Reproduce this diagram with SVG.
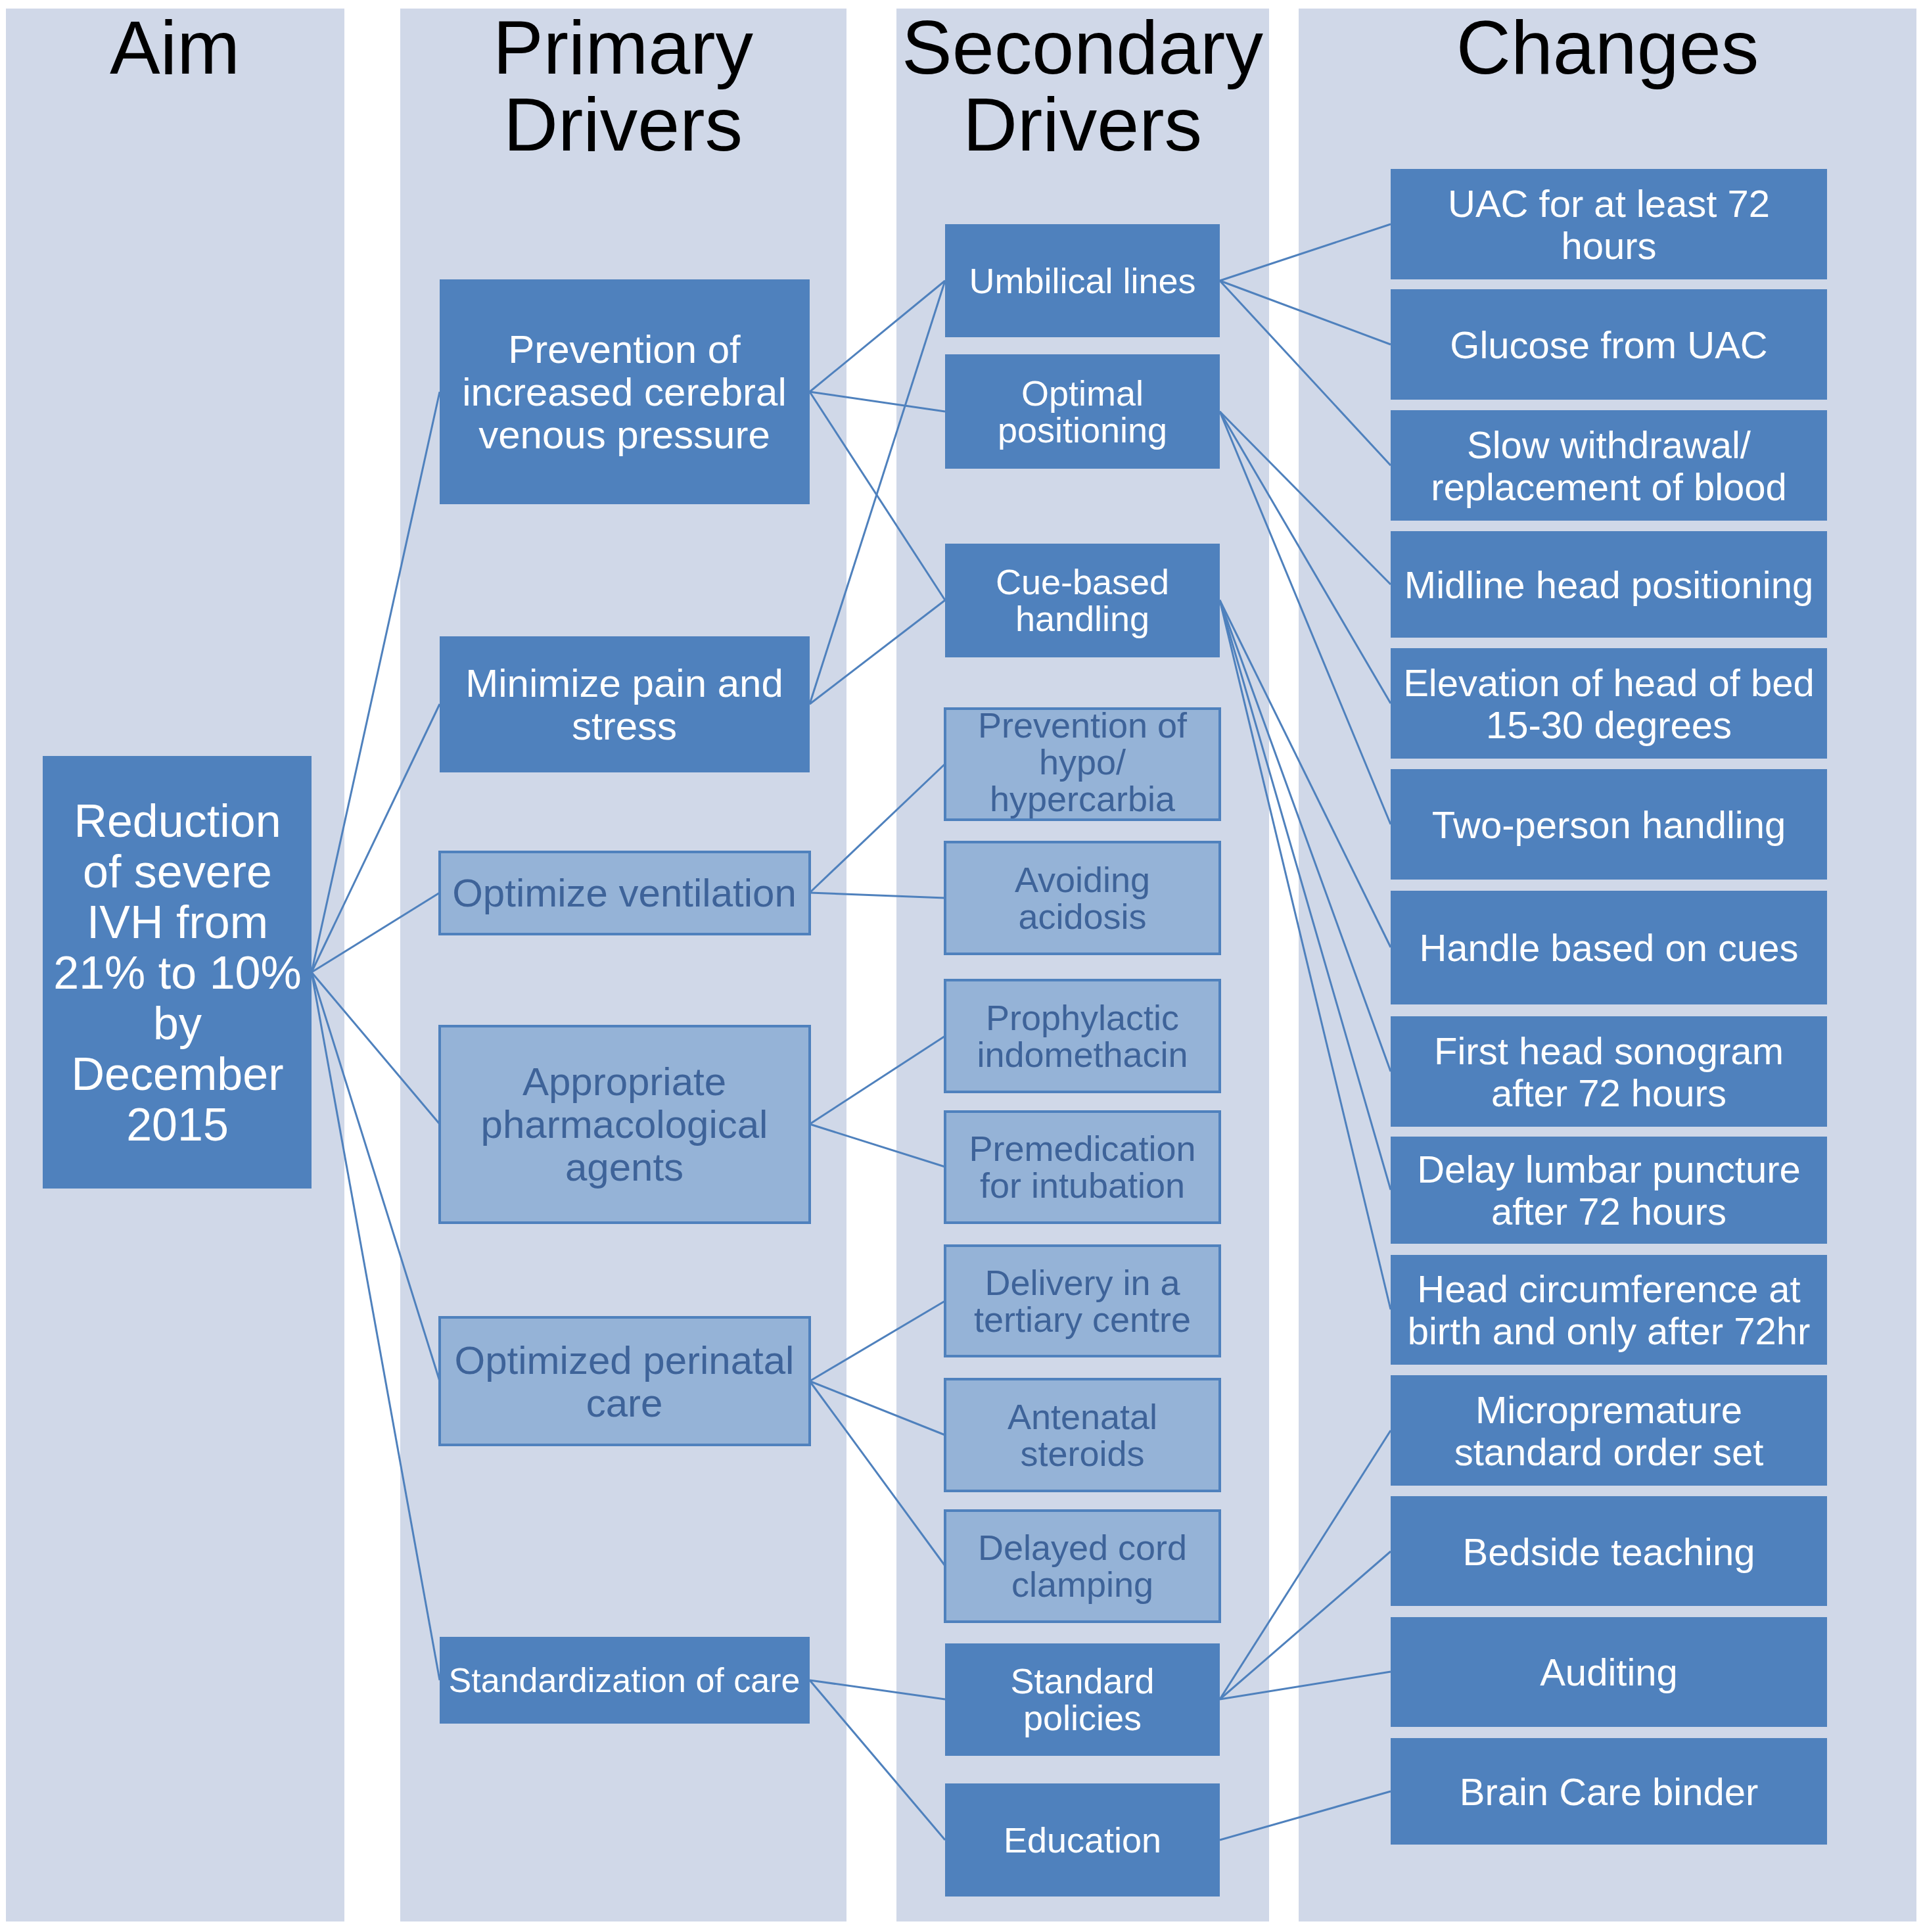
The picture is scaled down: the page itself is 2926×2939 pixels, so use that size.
<svg xmlns="http://www.w3.org/2000/svg" width="2926" height="2939" viewBox="0 0 2926 2939">
<style>
.col{fill:#D0D8E8}
.d{fill:#4F81BD}
.l{fill:#95B3D7;stroke:#4F81BD;stroke-width:4}
.h{font-family:"Liberation Sans",Arial,sans-serif;font-size:115px;fill:#000;text-anchor:middle}
.tw{font-family:"Liberation Sans",Arial,sans-serif;fill:#fff;text-anchor:middle}
.tl{font-family:"Liberation Sans",Arial,sans-serif;fill:#3E6399;text-anchor:middle}
.p{font-size:60px}.s{font-size:54px}.c{font-size:58px}
#connectors line{stroke:#4F81BD;stroke-width:3}
</style>
<rect width="2926" height="2939" fill="#fff"/>
<rect class="col" x="9" y="13" width="515" height="2910"/>
<rect class="col" x="609" y="13" width="679" height="2910"/>
<rect class="col" x="1364" y="13" width="567" height="2910"/>
<rect class="col" x="1976" y="13" width="940" height="2910"/>
<text class="h" x="266" y="112">Aim</text>
<text class="h" x="948" y="112">Primary</text><text class="h" x="948" y="229">Drivers</text>
<text class="h" x="1647" y="112">Secondary</text><text class="h" x="1647" y="229">Drivers</text>
<text class="h" x="2446" y="112">Changes</text>
<g id="connectors">
<line x1="474" y1="1479" x2="669" y2="596"/><line x1="474" y1="1479" x2="669" y2="1071"/><line x1="474" y1="1479" x2="669" y2="1358"/><line x1="474" y1="1479" x2="669" y2="1710"/><line x1="474" y1="1479" x2="669" y2="2101"/><line x1="474" y1="1479" x2="669" y2="2556"/>
<line x1="1232" y1="596" x2="1438" y2="427"/><line x1="1232" y1="596" x2="1438" y2="626"/><line x1="1232" y1="596" x2="1438" y2="913"/>
<line x1="1232" y1="1071" x2="1438" y2="427"/><line x1="1232" y1="1071" x2="1438" y2="913"/>
<line x1="1232" y1="1358" x2="1438" y2="1162"/><line x1="1232" y1="1358" x2="1438" y2="1366"/>
<line x1="1232" y1="1710" x2="1438" y2="1576"/><line x1="1232" y1="1710" x2="1438" y2="1775"/>
<line x1="1232" y1="2101" x2="1438" y2="1979"/><line x1="1232" y1="2101" x2="1438" y2="2183"/><line x1="1232" y1="2101" x2="1438" y2="2382"/>
<line x1="1232" y1="2556" x2="1438" y2="2585"/><line x1="1232" y1="2556" x2="1438" y2="2799"/>
<line x1="1856" y1="427" x2="2116" y2="341"/><line x1="1856" y1="427" x2="2116" y2="524"/><line x1="1856" y1="427" x2="2116" y2="708"/>
<line x1="1856" y1="626" x2="2116" y2="889"/><line x1="1856" y1="626" x2="2116" y2="1070"/><line x1="1856" y1="626" x2="2116" y2="1254"/>
<line x1="1856" y1="913" x2="2116" y2="1441"/><line x1="1856" y1="913" x2="2116" y2="1630"/><line x1="1856" y1="913" x2="2116" y2="1810"/><line x1="1856" y1="913" x2="2116" y2="1992"/>
<line x1="1856" y1="2585" x2="2116" y2="2176"/><line x1="1856" y1="2585" x2="2116" y2="2360"/><line x1="1856" y1="2585" x2="2116" y2="2543"/>
<line x1="1856" y1="2799" x2="2116" y2="2725"/>
</g>
<g id="aim"><rect class="d" x="65" y="1150" width="409" height="658"/>
<text class="tw" x="270" font-size="70"><tspan x="270" y="1273">Reduction</tspan><tspan x="270" y="1350">of severe</tspan><tspan x="270" y="1427">IVH from</tspan><tspan x="270" y="1504">21% to 10%</tspan><tspan x="270" y="1581">by</tspan><tspan x="270" y="1658">December</tspan><tspan x="270" y="1735">2015</tspan></text></g>
<g id="p1"><rect class="d" x="669" y="425" width="563" height="342"/><text class="tw p"><tspan x="950" y="552">Prevention of</tspan><tspan x="950" y="617">increased cerebral</tspan><tspan x="950" y="682">venous pressure</tspan></text></g>
<g id="p2"><rect class="d" x="669" y="968" width="563" height="207"/><text class="tw p"><tspan x="950" y="1060">Minimize pain and</tspan><tspan x="950" y="1125">stress</tspan></text></g>
<g id="p3"><rect class="l" x="669" y="1296" width="563" height="125"/><text class="tl p" x="950" y="1379">Optimize ventilation</text></g>
<g id="p4"><rect class="l" x="669" y="1561" width="563" height="299"/><text class="tl p"><tspan x="950" y="1666">Appropriate</tspan><tspan x="950" y="1731">pharmacological</tspan><tspan x="950" y="1796">agents</tspan></text></g>
<g id="p5"><rect class="l" x="669" y="2004" width="563" height="194"/><text class="tl p"><tspan x="950" y="2090">Optimized perinatal</tspan><tspan x="950" y="2155">care</tspan></text></g>
<g id="p6"><rect class="d" x="669" y="2490" width="563" height="132"/><text class="tw" font-size="52" x="950" y="2574">Standardization of care</text></g>
<g id="s1"><rect class="d" x="1438" y="341" width="418" height="172"/><text class="tw s" x="1647" y="446">Umbilical lines</text></g>
<g id="s2"><rect class="d" x="1438" y="539" width="418" height="174"/><text class="tw s"><tspan x="1647" y="617">Optimal</tspan><tspan x="1647" y="673">positioning</tspan></text></g>
<g id="s3"><rect class="d" x="1438" y="827" width="418" height="173"/><text class="tw s"><tspan x="1647" y="904">Cue-based</tspan><tspan x="1647" y="960">handling</tspan></text></g>
<g id="s4"><rect class="l" x="1438" y="1078" width="418" height="169"/><text class="tl s"><tspan x="1647" y="1122">Prevention of</tspan><tspan x="1647" y="1178">hypo/</tspan><tspan x="1647" y="1234">hypercarbia</tspan></text></g>
<g id="s5"><rect class="l" x="1438" y="1281" width="418" height="170"/><text class="tl s"><tspan x="1647" y="1357">Avoiding</tspan><tspan x="1647" y="1413">acidosis</tspan></text></g>
<g id="s6"><rect class="l" x="1438" y="1491" width="418" height="170"/><text class="tl s"><tspan x="1647" y="1567">Prophylactic</tspan><tspan x="1647" y="1623">indomethacin</tspan></text></g>
<g id="s7"><rect class="l" x="1438" y="1691" width="418" height="169"/><text class="tl s"><tspan x="1647" y="1766">Premedication</tspan><tspan x="1647" y="1822">for intubation</tspan></text></g>
<g id="s8"><rect class="l" x="1438" y="1895" width="418" height="168"/><text class="tl s"><tspan x="1647" y="1970">Delivery in a</tspan><tspan x="1647" y="2026">tertiary centre</tspan></text></g>
<g id="s9"><rect class="l" x="1438" y="2098" width="418" height="170"/><text class="tl s"><tspan x="1647" y="2174">Antenatal</tspan><tspan x="1647" y="2230">steroids</tspan></text></g>
<g id="s10"><rect class="l" x="1438" y="2298" width="418" height="169"/><text class="tl s"><tspan x="1647" y="2373">Delayed cord</tspan><tspan x="1647" y="2429">clamping</tspan></text></g>
<g id="s11"><rect class="d" x="1438" y="2500" width="418" height="171"/><text class="tw s"><tspan x="1647" y="2576">Standard</tspan><tspan x="1647" y="2632">policies</tspan></text></g>
<g id="s12"><rect class="d" x="1438" y="2713" width="418" height="172"/><text class="tw s" x="1647" y="2818">Education</text></g>
<g id="c1"><rect class="d" x="2116" y="257" width="664" height="168"/><text class="tw c"><tspan x="2448" y="330">UAC for at least 72</tspan><tspan x="2448" y="394">hours</tspan></text></g>
<g id="c2"><rect class="d" x="2116" y="440" width="664" height="168"/><text class="tw c" x="2448" y="545">Glucose from UAC</text></g>
<g id="c3"><rect class="d" x="2116" y="624" width="664" height="168"/><text class="tw c"><tspan x="2448" y="697">Slow withdrawal/</tspan><tspan x="2448" y="761">replacement of blood</tspan></text></g>
<g id="c4"><rect class="d" x="2116" y="808" width="664" height="162"/><text class="tw c" x="2448" y="910">Midline head positioning</text></g>
<g id="c5"><rect class="d" x="2116" y="986" width="664" height="168"/><text class="tw c"><tspan x="2448" y="1059">Elevation of head of bed</tspan><tspan x="2448" y="1123">15-30 degrees</tspan></text></g>
<g id="c6"><rect class="d" x="2116" y="1170" width="664" height="168"/><text class="tw c" x="2448" y="1275">Two-person handling</text></g>
<g id="c7"><rect class="d" x="2116" y="1355" width="664" height="173"/><text class="tw c" x="2448" y="1462">Handle based on cues</text></g>
<g id="c8"><rect class="d" x="2116" y="1546" width="664" height="168"/><text class="tw c"><tspan x="2448" y="1619">First head sonogram</tspan><tspan x="2448" y="1683">after 72 hours</tspan></text></g>
<g id="c9"><rect class="d" x="2116" y="1729" width="664" height="163"/><text class="tw c"><tspan x="2448" y="1799">Delay lumbar puncture</tspan><tspan x="2448" y="1863">after 72 hours</tspan></text></g>
<g id="c10"><rect class="d" x="2116" y="1909" width="664" height="167"/><text class="tw c"><tspan x="2448" y="1981">Head circumference at</tspan><tspan x="2448" y="2045">birth and only after 72hr</tspan></text></g>
<g id="c11"><rect class="d" x="2116" y="2092" width="664" height="168"/><text class="tw c"><tspan x="2448" y="2165">Micropremature</tspan><tspan x="2448" y="2229">standard order set</tspan></text></g>
<g id="c12"><rect class="d" x="2116" y="2276" width="664" height="167"/><text class="tw c" x="2448" y="2381">Bedside teaching</text></g>
<g id="c13"><rect class="d" x="2116" y="2460" width="664" height="167"/><text class="tw c" x="2448" y="2564">Auditing</text></g>
<g id="c14"><rect class="d" x="2116" y="2644" width="664" height="162"/><text class="tw c" x="2448" y="2746">Brain Care binder</text></g>
</svg>
